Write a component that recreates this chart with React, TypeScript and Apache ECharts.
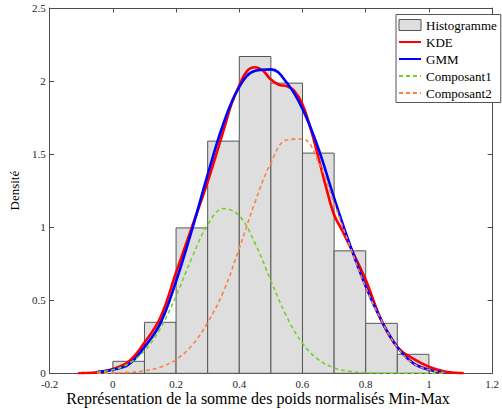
import React, { useEffect, useRef } from "react";
import * as echarts from "echarts";

// Histogram (bin starts, bin ends, density)
const binStart = [0, 0.1, 0.2, 0.3, 0.4, 0.5, 0.6, 0.7, 0.8, 0.9];
const binEnd = [0.1, 0.2, 0.3, 0.4, 0.5, 0.6, 0.7, 0.8, 0.9, 1.0];
const histDensity = [0.082, 0.349, 0.995, 1.589, 2.168, 1.986, 1.507, 0.838, 0.342, 0.13];

// KDE curve
const kdeX = [-0.11, -0.1, -0.05, 0, 0.05, 0.1, 0.15, 0.2, 0.25, 0.3, 0.35, 0.375, 0.4, 0.425, 0.45, 0.475, 0.5, 0.525, 0.55, 0.575, 0.6, 0.625, 0.65, 0.675, 0.7, 0.725, 0.75, 0.8, 0.85, 0.9, 0.95, 1.0, 1.05, 1.1, 1.11];
const kdeY = [0, 0.001, 0.007, 0.03, 0.08, 0.21, 0.38, 0.69, 1.0, 1.31, 1.66, 1.84, 1.97, 2.07, 2.095, 2.07, 2.01, 1.975, 1.965, 1.93, 1.84, 1.68, 1.48, 1.27, 1.085, 0.98, 0.87, 0.64, 0.36, 0.18, 0.1, 0.045, 0.012, 0.001, 0];

// GMM and its components share the same x grid
const gmmX = [-0.05, 0, 0.05, 0.1, 0.15, 0.2, 0.25, 0.3, 0.35, 0.4, 0.45, 0.5, 0.55, 0.6, 0.65, 0.7, 0.75, 0.8, 0.85, 0.9, 0.95, 1.0, 1.05];
const gmmY = [0.008, 0.025, 0.06, 0.18, 0.34, 0.63, 0.98, 1.36, 1.71, 1.96, 2.07, 2.08, 1.99, 1.81, 1.54, 1.2, 0.88, 0.595, 0.36, 0.18, 0.07, 0.025, 0.006];
const comp1Y = [0.008, 0.024, 0.066, 0.153, 0.306, 0.53, 0.79, 1.016, 1.127, 1.078, 0.889, 0.633, 0.388, 0.206, 0.094, 0.037, 0.013, 0.004, 0.001, 0, 0, 0, 0];
const comp2Y = [0.001, 0.002, 0.006, 0.017, 0.042, 0.094, 0.19, 0.348, 0.56, 0.855, 1.173, 1.439, 1.597, 1.603, 1.45, 1.165, 0.87, 0.59, 0.36, 0.178, 0.068, 0.024, 0.006];

const xTicks = { min: -0.2, max: 1.2, interval: 0.2 };
const yTicks = { min: 0, max: 2.5, interval: 0.5 };

const SERIF = "Liberation Serif";
const AXIS_COLOR = "#4d4d4d";

export default function App() {
  const ref = useRef<HTMLDivElement>(null);

  useEffect(() => {
    if (!ref.current) return;
    const chart = echarts.init(ref.current, undefined, { renderer: "svg" });

    const histData = binStart.map((s, i) => [s, binEnd[i], histDensity[i]]);
    const kdeData = kdeX.map((x, i) => [x, kdeY[i]]);
    const gmmData = gmmX.map((x, i) => [x, gmmY[i]]);
    const c1Data = gmmX.map((x, i) => [x, comp1Y[i]]);
    const c2Data = gmmX.map((x, i) => [x, comp2Y[i]]);

    const baseX = {
      type: "value",
      ...xTicks,
      axisLine: { show: true, onZero: false, lineStyle: { color: AXIS_COLOR, width: 1 } },
      axisTick: { show: true, inside: true, length: 4.5, lineStyle: { color: AXIS_COLOR } },
      splitLine: { show: false },
    };
    const baseY = {
      type: "value",
      ...yTicks,
      axisLine: { show: true, onZero: false, lineStyle: { color: AXIS_COLOR, width: 1 } },
      axisTick: { show: true, inside: true, length: 4.5, lineStyle: { color: AXIS_COLOR } },
      splitLine: { show: false },
    };

    const legendText = {
      color: "#000",
      fontFamily: SERIF,
      fontSize: 13,
      rich: { t: { fontFamily: SERIF, fontSize: 13, color: "#000", lineHeight: 11 } },
    };
    const hideSymbol = { opacity: 0 };

    const option: any = {
      animation: false,
      backgroundColor: "#ffffff",
      textStyle: { fontFamily: SERIF },
      grid: { left: 44, top: 8, right: 2.5, bottom: 35.7, containLabel: false },
      xAxis: [
        {
          ...baseX,
          position: "bottom",
          axisLabel: { color: "#262626", fontFamily: SERIF, fontSize: 11, margin: 5.5 },
        },
        { ...baseX, position: "top", axisLabel: { show: false } },
      ],
      yAxis: [
        {
          ...baseY,
          position: "left",
          name: "Densité",
          nameLocation: "middle",
          nameGap: 24,
          nameRotate: 90,
          nameTextStyle: { color: "#000", fontFamily: SERIF, fontSize: 13 },
          axisLabel: { color: "#262626", fontFamily: SERIF, fontSize: 11, margin: 4 },
        },
        { ...baseY, position: "right", axisLabel: { show: false } },
      ],
      legend: {
        orient: "vertical",
        left: 396,
        top: 14.5,
        itemWidth: 22,
        itemHeight: 11,
        itemGap: 4,
        padding: [4, 4, 3, 2],
        borderColor: "#555",
        borderWidth: 1,
        borderRadius: 0,
        backgroundColor: "#ffffff",
        formatter: (name: string) => `{t|${name}}`,
        textStyle: legendText,
        data: [
          {
            name: "Histogramme",
            icon: "rect",
            itemStyle: { color: "#dedede", borderColor: "#555", borderWidth: 1 },
            textStyle: legendText,
          },
          { name: "KDE", itemStyle: hideSymbol, textStyle: legendText },
          { name: "GMM", itemStyle: hideSymbol, textStyle: legendText },
          { name: "Composant1", itemStyle: hideSymbol, textStyle: legendText },
          { name: "Composant2", itemStyle: hideSymbol, textStyle: legendText },
        ],
      },
      graphic: [
        {
          type: "text",
          x: 258,
          y: 398,
          style: {
            text: "Représentation de la somme des poids normalisés Min-Max",
            font: `16px ${SERIF}`,
            fill: "#000",
            textAlign: "center",
            textVerticalAlign: "middle",
          },
        },
      ],
      series: [
        {
          name: "Histogramme",
          type: "custom",
          xAxisIndex: 0,
          yAxisIndex: 0,
          encode: { x: [0, 1], y: 2 },
          itemStyle: { color: "#dedede", borderColor: "#555", borderWidth: 1 },
          renderItem: (params: any, api: any) => {
            const p0 = api.coord([api.value(0), api.value(2)]);
            const p1 = api.coord([api.value(1), 0]);
            return {
              type: "rect",
              shape: { x: p0[0], y: p0[1], width: p1[0] - p0[0], height: p1[1] - p0[1] },
              style: { fill: "#dedede", stroke: "#555555", lineWidth: 1 },
            };
          },
          data: histData,
          z: 1,
        },
        {
          name: "KDE",
          type: "line",
          data: kdeData,
          smooth: 0.4,
          symbol: "none",
          color: "#ff0000",
          lineStyle: { color: "#ff0000", width: 2.6 },
          z: 3,
        },
        {
          name: "GMM",
          type: "line",
          data: gmmData,
          smooth: 0.4,
          symbol: "none",
          color: "#0000ff",
          lineStyle: { color: "#0000ff", width: 2.6 },
          z: 4,
        },
        {
          name: "Composant1",
          type: "line",
          data: c1Data,
          smooth: 0.4,
          symbol: "none",
          color: "#77d12a",
          lineStyle: { color: "#77d12a", width: 1.6, type: [4, 3] },
          z: 5,
        },
        {
          name: "Composant2",
          type: "line",
          data: c2Data,
          smooth: 0.4,
          symbol: "none",
          color: "#ff7f45",
          lineStyle: { color: "#ff7f45", width: 1.6, type: [4, 3] },
          z: 6,
        },
      ],
    };

    chart.setOption(option);
    return () => chart.dispose();
  }, []);

  return (
    <div
      ref={ref}
      style={{ position: "fixed", left: 0, top: 0, width: 502, height: 409, background: "#fff" }}
    />
  );
}
